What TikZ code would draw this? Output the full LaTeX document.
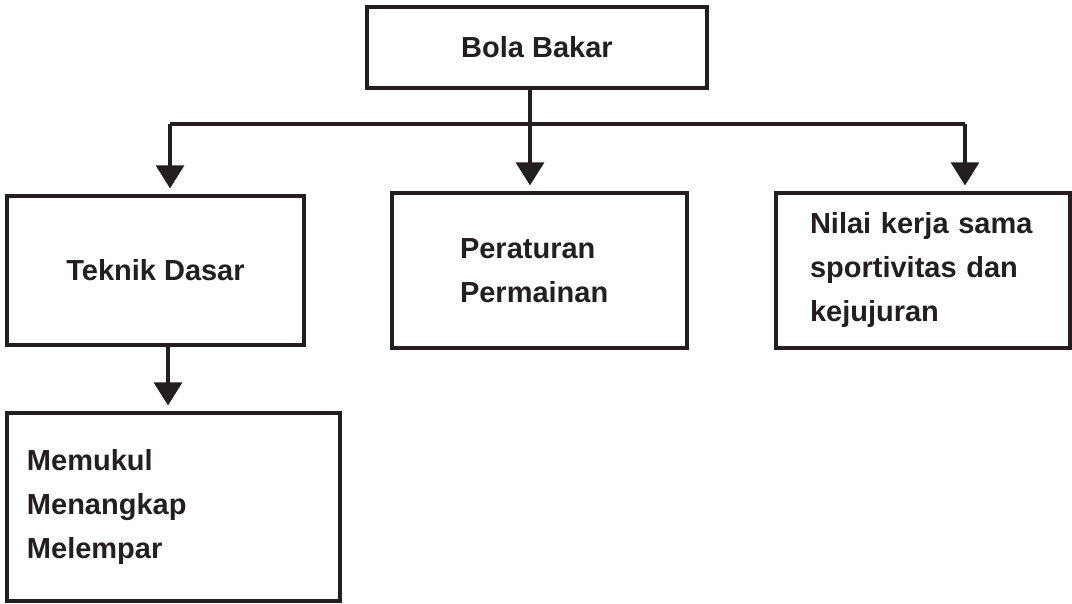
\documentclass[tikz,border=0pt]{standalone}
\usepackage{fontspec}
\setmainfont{Liberation Sans}
\usepackage{xcolor}
\usepackage{tikz}
\usetikzlibrary{arrows.meta,positioning,calc}
\definecolor{cInk}{HTML}{231F20}
\tikzset{
  bkbox/.style={draw=cInk,line width=3.2pt,text=cInk,inner sep=0pt,
      font=\bfseries\fontsize{29}{44}\selectfont,align=center},
  bkleft/.style={bkbox,align=left},
  bkline/.style={draw=cInk,line width=3.2pt},
  bkarr/.style={bkline,-{Triangle[length=23pt,width=28pt]},shorten >=6pt},
}
% x, y, width, height, name, options, text
\newcommand{\topic}[7]{%
  \node[#6,minimum width=#3pt,minimum height=#4pt] (#5) at (#1,#2) {#7};}

\begin{document}
\begin{tikzpicture}[x=1pt,y=1pt]
  \useasboundingbox (0,0) rectangle (1072,-604);

  \topic{537}{-47.5}{340}{81}{bola}{bkbox}{Bola Bakar}
  \topic{155.5}{-270.5}{297}{149}{teknik}{bkbox}{Teknik Dasar}
  \topic{539.5}{-270.5}{295}{155}{aturan}{bkleft,inner xsep=68pt,text width=159pt}
    {Peraturan\\Permainan}
  \topic{923}{-270.5}{294}{155}{nilai}{bkleft,inner xsep=34pt,text width=226pt}
    {Nilai kerja sama\\sportivitas dan\\kejujuran}
  \topic{173.5}{-507}{333}{188}{gerak}{bkleft,inner xsep=20pt,text width=293pt}
    {Memukul\\Menangkap\\Melempar}

  \coordinate (split) at (530,-124);
  \coordinate (brL) at (170,-124);
  \coordinate (brR) at (965,-124);

  \draw[bkline] (bola.south -| split) -- (split);
  \draw[bkline] (brL) -- (brR);
  \draw[bkarr] (brL) -- (brL |- teknik.north);
  \draw[bkarr] (split) -- (split |- aturan.north);
  \draw[bkarr] (brR) -- (brR |- nilai.north);
  \draw[bkarr] ([xshift=12.5pt]teknik.south) -- ([xshift=12.5pt]teknik.south |- gerak.north);
\end{tikzpicture}
\end{document}
